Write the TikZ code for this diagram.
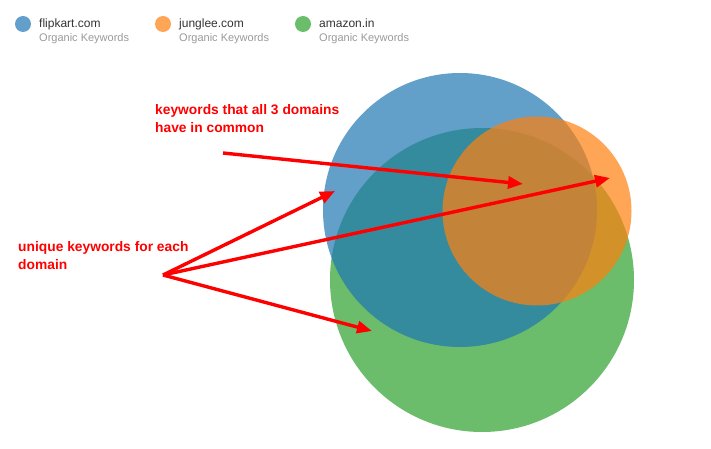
\documentclass[tikz,border=0pt]{standalone}
\usepackage{fontspec}
\setmainfont{Liberation Sans}
\definecolor{vennazul}{HTML}{1F77B4}
\definecolor{vennnaranja}{HTML}{FF7F0E}
\definecolor{vennverde}{HTML}{2CA02C}
\definecolor{textooscuro}{HTML}{333333}
\definecolor{textogris}{HTML}{999999}
\usetikzlibrary{arrows.meta, positioning}

\begin{document}
\begin{tikzpicture}[x=1pt, y=-1pt,
    conjunto/.style={circle, inner sep=0pt, fill opacity=0.7, draw=none},
    punto/.style={circle, inner sep=0pt, minimum size=16pt},
    dominio/.style={anchor=base west, inner sep=0pt, text=textooscuro, font=\fontsize{12}{14}\selectfont},
    subtitulo/.style={anchor=base west, inner sep=0pt, text=textogris, font=\fontsize{11}{13}\selectfont},
    nota/.style={anchor=north west, inner sep=0pt, align=left, text=red, font=\bfseries\fontsize{13.8}{18}\selectfont},
    flecha/.style={draw=red, line width=3.4pt, -{Triangle[length=15pt, width=12pt]}}
]
    \useasboundingbox (0,0) rectangle (711,449);

    % Circulos
    \node (amazon) [conjunto, fill=vennverde, minimum size=304pt] at (482,280) {};
    \node (flipkart) [conjunto, fill=vennazul, minimum size=274pt] at (460,210) {};
    \node (junglee) [conjunto, fill=vennnaranja, minimum size=189pt] at (537,211) {};

    % Leyenda
    \node (puntoFlip) [punto, fill=vennazul!70] at (23,24) {};
    \node (nombreFlip) [dominio] at (39,28) {flipkart.com};
    \node (subFlip) [subtitulo] at (39,42) {Organic Keywords};
    \node (puntoJung) [punto, fill=vennnaranja!70] at (163,24) {};
    \node (nombreJung) [dominio] at (179,28) {junglee.com};
    \node (subJung) [subtitulo] at (179,42) {Organic Keywords};
    \node (puntoAmaz) [punto, fill=vennverde!70] at (303,24) {};
    \node (nombreAmaz) [dominio] at (319,28) {amazon.in};
    \node (subAmaz) [subtitulo] at (319,42) {Organic Keywords};

    % Notas
    \node (notaComun) [nota] at (155,104) {keywords that all 3 domains\\have in common};
    \node (notaUnica) [nota] at (18,241) {unique keywords for each\\domain};

    % Extremos de flechas
    \coordinate (origenComun) at (223,153);
    \coordinate (centroComun) at (523,184);
    \coordinate (origenUnico) at (163,275);
    \coordinate (soloFlip) at (335,191);
    \coordinate (soloJung) at (610,178);
    \coordinate (soloAmaz) at (372,331);

    % Flechas
    \draw [flecha] (origenComun) -- (centroComun);
    \draw [flecha] (origenUnico) -- (soloFlip);
    \draw [flecha] (origenUnico) -- (soloJung);
    \draw [flecha] (origenUnico) -- (soloAmaz);
\end{tikzpicture}
\end{document}
